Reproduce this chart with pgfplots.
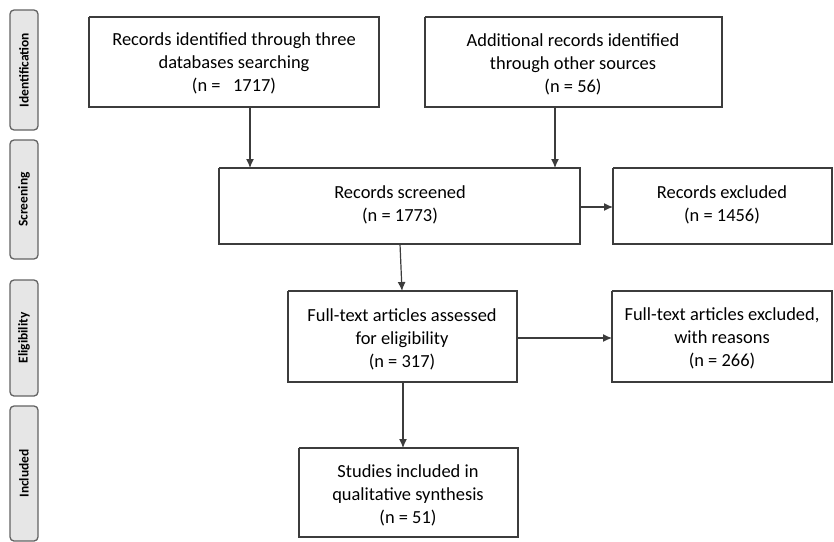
\documentclass[border=0pt]{standalone}
\usepackage{pgfplots}
\pgfplotsset{compat=1.18}
\usepackage{fontspec}
\setmainfont{Carlito}
\usetikzlibrary{arrows.meta}
\definecolor{ln}{HTML}{3C3C3C}
\definecolor{tx}{HTML}{2E2E2E}
\definecolor{lbfill}{HTML}{E6E6E6}
\begin{document}
\begin{tikzpicture}
\begin{axis}[hide axis, scale only axis, width=834bp, height=542bp,
  xmin=0, xmax=834, ymin=0, ymax=542, y dir=reverse, clip=false,
  every node/.append style={text=tx}]
\path (axis cs:0,0) rectangle (axis cs:834,542);
% stage labels
\foreach \a/\b/\t in {10/130/Identification, 140/259/Screening, 280/396/Eligibility, 406/541/Included}{
  \edef\tmp{\noexpand\draw[ln!80, line width=1.3bp, fill=lbfill, rounded corners=4bp] (axis cs:10,\a) rectangle (axis cs:38,\b);
  \noexpand\node[rotate=90, font=\noexpand\fontsize{13.5}{15}\noexpand\selectfont\noexpand\bfseries] at (axis cs:24,{(\a+\b)/2}) {\t};}
  \tmp
}
% boxes
\addplot[ln, line width=1.2bp] coordinates {(89,17) (379,17) (379,107) (89,107) (89,17)};
\addplot[ln, line width=1.2bp] coordinates {(425,17) (722,17) (722,107) (425,107) (425,17)};
\addplot[ln, line width=1.2bp] coordinates {(219,168) (580,168) (580,244) (219,244) (219,168)};
\addplot[ln, line width=1.2bp] coordinates {(613,168) (832,168) (832,244) (613,244) (613,168)};
\addplot[ln, line width=1.2bp] coordinates {(288,291) (517,291) (517,382) (288,382) (288,291)};
\addplot[ln, line width=1.2bp] coordinates {(612,291) (832,291) (832,382) (612,382) (612,291)};
\addplot[ln, line width=1.2bp] coordinates {(299,448) (518,448) (518,537) (299,537) (299,448)};
% arrows
\addplot[ln, line width=1.2bp, -{Latex[length=9bp,width=8bp]}] coordinates {(250,107) (250,168)};
\addplot[ln, line width=1.2bp, -{Latex[length=9bp,width=8bp]}] coordinates {(555,107) (555,168)};
\addplot[ln, line width=1.2bp, -{Latex[length=9bp,width=8bp]}] coordinates {(580,207) (613,207)};
\addplot[ln, line width=1.2bp, -{Latex[length=9bp,width=8bp]}] coordinates {(400,244) (402,291)};
\addplot[ln, line width=1.2bp, -{Latex[length=9bp,width=8bp]}] coordinates {(517,338) (612,338)};
\addplot[ln, line width=1.2bp, -{Latex[length=9bp,width=8bp]}] coordinates {(403,382) (403,448)};
% texts
\tikzset{bt/.style={align=center, font=\fontsize{18.5}{23}\selectfont, inner sep=0pt}}
\node[bt] at (axis cs:234,63) {Records identified through three\\databases searching\\(n =\ \ \ 1717)};
\node[bt] at (axis cs:573,64) {Additional records identified\\through other sources\\(n = 56)};
\node[bt] at (axis cs:400,205) {Records screened\\(n = 1773)};
\node[bt] at (axis cs:722,205) {Records excluded\\(n = 1456)};
\node[bt] at (axis cs:402,339) {Full-text articles assessed\\for eligibility\\(n = 317)};
\node[bt] at (axis cs:722,338) {Full-text articles excluded,\\with reasons\\(n = 266)};
\node[bt] at (axis cs:408,495) {Studies included in\\qualitative synthesis\\(n = 51)};
\end{axis}
\end{tikzpicture}
\end{document}
